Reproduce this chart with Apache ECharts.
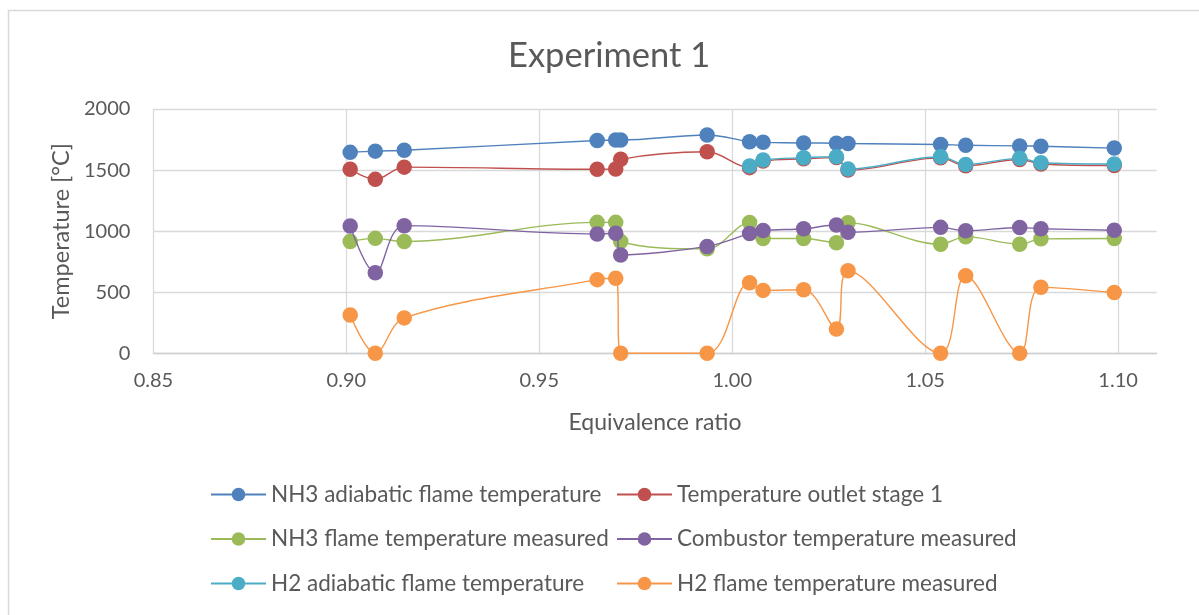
<!DOCTYPE html>
<html>
<head>
<meta charset="utf-8">
<script src="https://cdn.jsdelivr.net/npm/echarts@6/dist/echarts.min.js"></script>
<style>html,body{margin:0;padding:0;background:#fff}#c{width:1199px;height:615px}</style>
</head>
<body>
<div id="c"></div>
<script>
const titleText = 'Experiment 1';
const xAxisName = 'Equivalence ratio';
const yAxisName = 'Temperature [°C]';
const seriesNames = ['NH3 adiabatic flame temperature', 'Temperature outlet stage 1', 'NH3 flame temperature measured', 'Combustor temperature measured', 'H2 adiabatic flame temperature', 'H2 flame temperature measured'];
const seriesColors = ['#4F81BD', '#C0504D', '#9BBB59', '#8064A2', '#4BACC6', '#F79646'];

const xValues = [0.901, 0.9075, 0.915, 0.965, 0.9698, 0.9711, 0.9935, 1.0045, 1.008, 1.0185, 1.027, 1.030, 1.054, 1.0605, 1.0745, 1.080, 1.099];
const nh3Adiabatic = [1645, 1655, 1662, 1742, 1746, 1746, 1787, 1732, 1727, 1722, 1720, 1717, 1709, 1703, 1698, 1695, 1680];
const outletStage1 = [1507, 1424, 1524, 1507, 1508, 1588, 1650, 1520, 1574, 1592, 1602, 1500, 1600, 1535, 1587, 1550, 1537];
const nh3Measured = [915, 941, 915, 1072, 1072, 915, 855, 1070, 940, 940, 905, 1068, 893, 955, 893, 937, 940];
const combustor = [1043, 660, 1045, 977, 983, 805, 875, 980, 1005, 1020, 1050, 990, 1031, 1003, 1030, 1020, 1007];
const h2Adiabatic = [null, null, null, null, null, null, null, 1533, 1582, 1601, 1609, 1509, 1609, 1546, 1596, 1560, 1550];
const h2Measured = [313, 0, 290, 603, 614, 0, 0, 578, 515, 520, 198, 676, 0, 635, 0, 540, 498];

const allY = [nh3Adiabatic, outletStage1, nh3Measured, combustor, h2Adiabatic, h2Measured];

const FONT = 'Lato';
const TXT = '#595959';

function pairs(ys) {
  const out = [];
  for (let i = 0; i < xValues.length; i++) {
    if (ys[i] !== null && ys[i] !== undefined) out.push([xValues[i], ys[i]]);
  }
  return out;
}

const series = allY.map((ys, i) => ({
  name: seriesNames[i],
  type: 'line',
  data: pairs(ys),
  smooth: 0.35,
  symbol: 'circle',
  symbolSize: 15.5,
  showAllSymbol: true,
  color: seriesColors[i],
  lineStyle: { width: 1.4, color: seriesColors[i] },
  itemStyle: { color: seriesColors[i] },
  emphasis: { disabled: true },
  animation: false,
  z: 2 + i
}));

const legendCommon = {
  orient: 'vertical',
  itemWidth: 55,
  itemHeight: 17,
  itemGap: 18.5,
  padding: 0,
  textStyle: { fontFamily: FONT, fontSize: 22.5, color: TXT, lineHeight: 26 },
  selectedMode: false
};

const chart = echarts.init(document.getElementById('c'), null, { renderer: 'canvas' });
chart.setOption({
  animation: false,
  backgroundColor: '#fff',
  title: {
    text: titleText,
    left: 503,
    top: 33,
    textStyle: { fontFamily: FONT, fontSize: 34.5, fontWeight: 'normal', color: TXT }
  },
  grid: { left: 153.4, right: 42.3, top: 109, bottom: 261.7, containLabel: false },
  xAxis: {
    type: 'value',
    min: 0.85,
    max: 1.11,
    interval: 0.05,
    name: xAxisName,
    nameLocation: 'middle',
    nameGap: 58,
    nameTextStyle: { fontFamily: FONT, fontSize: 23, color: TXT },
    axisLine: { show: true, lineStyle: { color: '#d0d0d0', width: 1.3 } },
    axisTick: { show: false },
    axisLabel: { fontFamily: FONT, fontSize: 20, color: TXT, margin: 17, showMaxLabel: false, formatter: v => v.toFixed(2) },
    splitLine: { show: true, showMinLine: true, showMaxLine: false, lineStyle: { color: '#d9d9d9', width: 1.3 } }
  },
  yAxis: {
    type: 'value',
    min: 0,
    max: 2000,
    interval: 500,
    name: yAxisName,
    nameLocation: 'middle',
    nameGap: 80,
    nameTextStyle: { fontFamily: FONT, fontSize: 23.5, color: TXT },
    axisLine: { show: false },
    axisTick: { show: false },
    axisLabel: { fontFamily: FONT, fontSize: 20, color: TXT, margin: 23, formatter: v => String(v) },
    splitLine: { show: true, lineStyle: { color: '#d9d9d9', width: 1.3 } }
  },
  legend: [
    Object.assign({ left: 210, top: 481.5, data: [seriesNames[0], seriesNames[2], seriesNames[4]] }, legendCommon),
    Object.assign({ left: 616, top: 481.5, data: [seriesNames[1], seriesNames[3], seriesNames[5]] }, legendCommon)
  ],
  graphic: [{
    type: 'rect',
    shape: { x: 8.5, y: 10.5, width: 1300, height: 800 },
    style: { fill: 'none', stroke: '#d9d9d9', lineWidth: 1.5 },
    silent: true,
    z: -10
  }],
  series: series
});
</script>
</body>
</html>
